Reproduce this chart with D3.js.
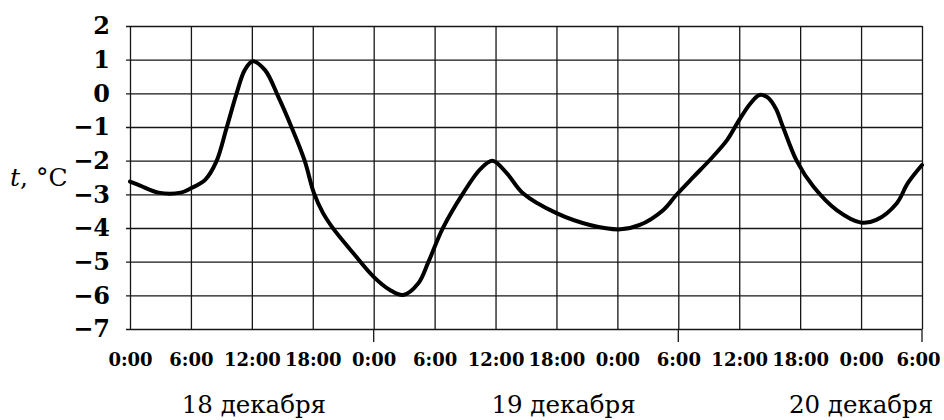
<!DOCTYPE html>
<html>
<head>
<meta charset="utf-8">
<script src="https://cdn.jsdelivr.net/npm/d3@7"></script>
<style>
  html, body { margin: 0; padding: 0; background: #fff; }
  svg { display: block; }
</style>
</head>
<body>
<svg id="chart" width="944" height="420"></svg>
<script>
// ---- data ----
const hours = [0, 1, 2.8, 5, 6, 7.4, 8.5, 9.5, 10.5, 11.3, 12.1, 13.3, 14.6, 15.9, 17.2, 18.1, 19,
  20, 22, 24, 25.6, 26.9, 28.4, 29.4, 30.8, 32.8, 34.5, 35.7, 37.1, 38.7, 42, 45.3, 48.3,
  50.2, 52.5, 53.8, 55.5, 57.1, 58.8, 59.9, 61.1, 62, 62.8, 63.6, 64.3, 65.7, 67.3, 69.6, 72,
  73.5, 75.5, 76.6, 78];
const temps = [-2.62, -2.74, -2.95, -2.95, -2.82, -2.57, -2.03, -1.04, 0, 0.69, 0.95, 0.69, -0.1, -1.0, -2.0, -2.95, -3.55,
  -4.01, -4.75, -5.45, -5.84, -5.99, -5.64, -5.0, -4.01, -2.97, -2.25, -2.0, -2.37, -2.97, -3.56, -3.91, -4.04,
  -3.91, -3.47, -3.02, -2.48, -1.98, -1.39, -0.84, -0.3, -0.05, -0.12, -0.45, -0.99, -2.03, -2.77, -3.47, -3.84,
  -3.76, -3.27, -2.67, -2.13];
const xTickHours = [0, 6, 12, 18, 24, 30, 36, 42, 48, 54, 60, 66, 72, 78];
const xTickLabels = ["0:00", "6:00", "12:00", "18:00", "0:00", "6:00", "12:00", "18:00", "0:00", "6:00", "12:00", "18:00", "0:00", "6:00"];
const yTicks = [2, 1, 0, -1, -2, -3, -4, -5, -6, -7];
const longTickHours = [24, 54, 78];
const dayLabels = ["18 декабря", "19 декабря", "20 декабря"];
const dayLabelHours = [12.2, 42.7, 72];

// ---- layout ----
const pLeft = 130, pRight = 922, pTop = 26, pBottom = 329;
const svg = d3.select("#chart");
const x = d3.scaleLinear().domain([0, 78]).range([pLeft, pRight]);
const y = d3.scaleLinear().domain([-7, 2]).range([pBottom, pTop]);
const serif = "'DejaVu Serif', serif";

// horizontal grid + y labels
const yAxis = svg.append("g")
  .attr("transform", `translate(${pLeft - 4},0)`)
  .call(d3.axisLeft(y).tickValues(yTicks).tickSize(-(pRight - pLeft + 4)).tickPadding(16)
    .tickFormat(d => d < 0 ? "\u2212" + Math.abs(d) : String(d)));
yAxis.select(".domain").remove();
yAxis.selectAll("line").attr("stroke", "#161616").attr("stroke-width", 1.3);
yAxis.selectAll("text").attr("font-family", serif).attr("font-weight", "bold")
  .attr("font-size", 24).attr("fill", "#000").attr("dy", "0.33em");

// vertical grid + x labels
const xAxis = svg.append("g")
  .attr("transform", `translate(0,${pBottom})`)
  .call(d3.axisBottom(x).tickValues(xTickHours).tickSize(-(pBottom - pTop)).tickPadding(24)
    .tickFormat((d, i) => xTickLabels[i]));
xAxis.select(".domain").remove();
xAxis.selectAll("line").attr("stroke", "#161616").attr("stroke-width", 1.3);
xAxis.selectAll("text").attr("font-family", serif).attr("font-weight", "bold")
  .attr("font-size", 18).attr("fill", "#000")
  .attr("dx", (d, i) => i === xTickHours.length - 1 ? -4 : 0);

// long ticks below axis
svg.append("g").selectAll("line").data(longTickHours).join("line")
  .attr("x1", d => x(d)).attr("x2", d => x(d))
  .attr("y1", pBottom).attr("y2", pBottom + 13)
  .attr("stroke", "#161616").attr("stroke-width", 1.3);

// curve
const pts = hours.map((h, i) => [h, temps[i]]);
svg.append("path")
  .datum(pts)
  .attr("fill", "none")
  .attr("stroke", "#000")
  .attr("stroke-width", 4)
  .attr("stroke-linejoin", "round")
  .attr("stroke-linecap", "round")
  .attr("d", d3.line().x(d => x(d[0])).y(d => y(d[1])).curve(d3.curveCatmullRom.alpha(0.5)));

// y axis title
const tTitle = svg.append("text").attr("x", 10).attr("y", 186)
  .attr("font-family", serif).attr("font-size", 25).attr("fill", "#000");
tTitle.append("tspan").attr("font-style", "italic").text("t");
tTitle.append("tspan").text(", \u00B0C");

// day labels
svg.append("g").selectAll("text").data(dayLabels).join("text")
  .attr("x", (d, i) => x(dayLabelHours[i]))
  .attr("y", 413)
  .attr("text-anchor", "middle")
  .attr("font-family", serif).attr("font-size", 24.5).attr("fill", "#000")
  .text(d => d);
</script>
</body>
</html>
